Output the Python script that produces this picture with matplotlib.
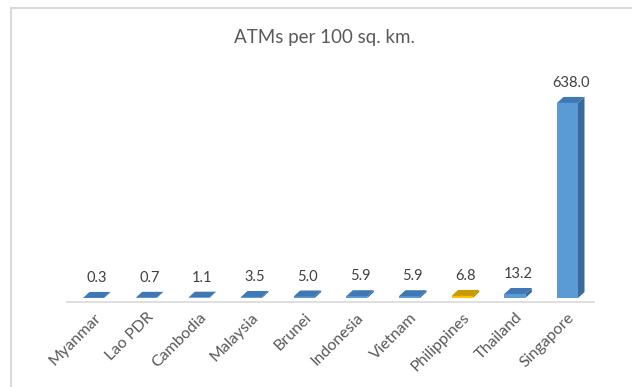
import matplotlib
matplotlib.use("Agg")
import matplotlib.pyplot as plt
from matplotlib.patches import Polygon, Rectangle
from matplotlib.lines import Line2D

countries = ["Myanmar", "Lao PDR", "Cambodia", "Malaysia", "Brunei",
             "Indonesia", "Vietnam", "Philippines", "Thailand", "Singapore"]
atms = [0.3, 0.7, 1.1, 3.5, 5.0, 5.9, 5.9, 6.8, 13.2, 638.0]
highlight = "Philippines"

plt.rcParams["font.family"] = ["Lato", "DejaVu Sans"]

W, H, DPI = 632, 387, 100
fig = plt.figure(figsize=(W / DPI, H / DPI), dpi=DPI)
fig.patch.set_facecolor("white")

# chart frame (left and top edges)
fig.add_artist(Line2D([11 / W, 11 / W], [0, 1 - 8 / H], transform=fig.transFigure,
                      color="#D9D9D9", lw=1.5))
fig.add_artist(Line2D([11 / W, 1], [1 - 8 / H, 1 - 8 / H], transform=fig.transFigure,
                      color="#D9D9D9", lw=1.5))

ymin, ymax = -13, 700
ax_left, ax_right = 67.2, 593.8
ax_top, ax_bot = 84, 302
ax = fig.add_axes([ax_left / W, 1 - ax_bot / H, (ax_right - ax_left) / W, (ax_bot - ax_top) / H])
ax.set_xlim(-0.5, len(countries) - 0.5)
ax.set_ylim(ymin, ymax)

px_per_y = (ax_bot - ax_top) / (ymax - ymin)
px_per_x = (ax_right - ax_left) / len(countries)

bar_w = 0.40
depth_x = 6.5 / px_per_x
depth_y = 6.0 / px_per_y

for i, (name, v) in enumerate(zip(countries, atms)):
    if name == highlight:
        front, top, side = "#FFC000", "#C99A00", "#B38600"
    else:
        front, top, side = "#5B9BD5", "#3F78B4", "#3A6A98"
    x0 = i - bar_w / 2
    x1 = i + bar_w / 2
    ax.add_patch(Polygon([(x1, 0), (x1 + depth_x, depth_y), (x1 + depth_x, v + depth_y), (x1, v)],
                         closed=True, facecolor=side, edgecolor="none"))
    ax.add_patch(Rectangle((x0, 0), bar_w, v, facecolor=front, edgecolor="none"))
    ax.add_patch(Polygon([(x0, v), (x1, v), (x1 + depth_x, v + depth_y), (x0 + depth_x, v + depth_y)],
                         closed=True, facecolor=top, edgecolor="none"))
    ax.annotate(f"{v:.1f}", (i + depth_x / 2, v + depth_y), xytext=(0, 5),
                textcoords="offset points", ha="center", va="bottom",
                fontsize=10.5, color="#404040")

for s in ["left", "right", "top"]:
    ax.spines[s].set_visible(False)
ax.spines["bottom"].set_color("#D9D9D9")
ax.spines["bottom"].set_linewidth(1.2)
ax.set_yticks([])
ax.set_xticks(range(len(countries)))
ax.set_xticklabels(countries, rotation=45, ha="right", va="top", rotation_mode="anchor",
                   fontsize=11.5, color="#595959")
ax.tick_params(axis="x", length=0, pad=6)

fig.text(0.5 + 8 / W, 1 - 38 / H, "ATMs per 100 sq. km.", ha="center", va="center",
         fontsize=13.5, color="#595959")

fig.savefig("out.png", dpi=DPI, facecolor="white")
